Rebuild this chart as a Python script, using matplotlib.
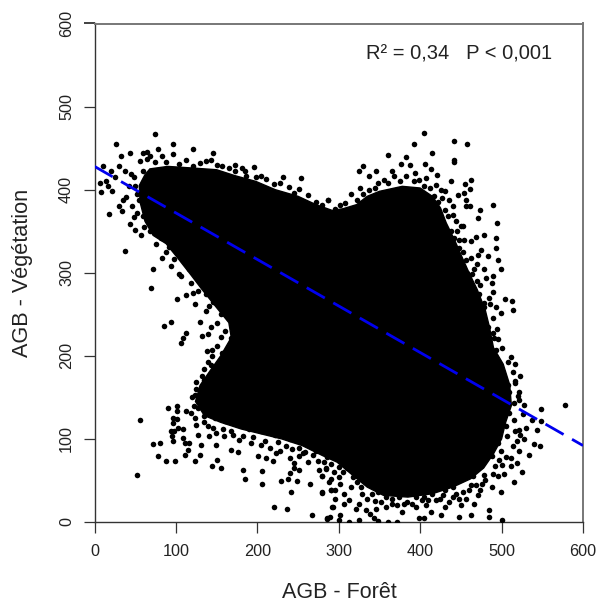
import matplotlib
matplotlib.use("Agg")
import matplotlib.pyplot as plt
from matplotlib.patches import Polygon

plt.rcParams['font.family'] = ['Liberation Sans', 'DejaVu Sans']

x_label = "AGB - Forêt"
y_label = "AGB - Végétation"
note = "R² = 0,34   P < 0,001"
ticks = [0, 100, 200, 300, 400, 500, 600]
fit_x = [0, 600]
fit_y = [428, 92]

# Outline of the region where the points overlap into solid black
dense_core = [(55,405),(62,418),(68,425),(90,428),(121,426),(150,424),(172,417),(198,410),(222,400),(250,392),
 (272,382),(292,375),(305,377),(322,382),(335,392),(350,398),(378,404),(400,402),(415,392),(425,378),
 (432,360),(442,340),(450,322),(460,300),(470,280),(480,255),(485,235),(490,210),(502,190),(510,165),
 (512,140),(505,120),(500,100),(490,82),(478,65),(462,52),(440,42),(415,34),(385,30),(355,32),(335,42),
 (315,58),(298,72),(280,80),(255,92),(230,100),(205,106),(180,112),(155,120),(135,128),(124,145),(130,165),
 (142,182),(155,200),(168,222),(165,240),(150,258),(132,280),(118,298),(102,318),(88,335),(72,345),
 (62,362),(56,385)]

upper_left = [(74,467),(27,455),(96,455),(121,449),(146,444),(32,441),(43,444),(11,429),(7,408),(8,397),
 (18,371),(38,326),(72,305),(70,282),(101,268),(44,359),(30,380),(50,351),(196,427),(254,414),(232,415),
 (181,426),(137,435),(59,444),(65,445),(78,449),(20,423),(14,411),(22,398),(35,387),(34,374),(56,435),
 (37,423),(45,419),(83,318),(94,308),(104,298),(121,276),(112,273),(123,262),(137,254),(88,433),(104,431),
 (121,429),(143,436),(157,429),(172,430),(172,423),(186,417),(198,415),(211,413),(221,407),(239,403),
 (251,401),(272,385),(287,387),(296,377),(74,433),(59,423),(49,415),(39,391),(55,387),(49,367),(61,355),
 (57,345),(76,335),(92,331),(98,316),(112,316),(106,296),(119,288),(137,274),(141,260),(16,404),(25,415),
 (42,405),(52,395),(64,437),(83,441),(96,443),(30,428),(68,440),(112,436),(130,432),(150,430),(165,426),
 (185,422),(205,416),(228,408),(245,396),(262,394),(280,382),(50,405),(46,380),(52,372),(60,368),(68,350),
 (82,342),(88,325),(103,322),(116,305),(128,292),(127,278),(145,265),(155,250)]

upper_right = [(405,468),(392,455),(442,458),(457,455),(360,442),(382,439),(414,444),(442,436),(442,433),
 (376,431),(388,430),(406,431),(330,429),(325,423),(346,422),(366,423),(337,417),(394,420),(413,425),
 (421,418),(438,411),(462,412),(455,407),(461,401),(326,402),(454,396),(446,394),(456,387),(490,382),
 (456,380),(461,380),(473,375),(471,366),(494,360),(469,343),(478,345),(493,342),(454,339),(493,330),
 (475,327),(453,325),(471,321),(483,320),(496,315),(499,305),(470,311),(481,294),(488,288),(489,277),
 (504,269),(513,266),(514,255),(499,251),(493,259),(478,263),(464,299),(452,356),(440,380),(427,390),
 (315,395),(287,388),(308,384),(323,388),(337,400),(348,408),(368,416),(382,416),(399,412),(407,414),
 (419,406),(417,392),(436,388),(440,370),(427,360),(450,356),(442,342),(440,323),(452,307),(460,291),
 (472,275),(478,259),(430,376),(445,350),(432,345),(448,330),(462,318),(458,300),(470,290),(484,270),
 (425,400),(412,402),(355,412),(392,410),(302,382),(330,395),(345,402),(360,408),(375,410),(405,405),
 (422,385),(434,368),(438,350),(448,340),(456,315),(466,305),(474,285),(486,262),(490,245),(494,232),
 (431,398),(444,362),(462,338),(479,305),(490,296)]

lower_right = [(578,141),(548,136),(549,121),(544,111),(547,91),(540,94),(534,81),(525,60),(519,71),(515,48),
 (499,36),(485,15),(485,6),(500,2),(462,8),(448,6),(466,22),(450,20),(431,18),(425,9),(413,12),(405,5),
 (398,5),(371,0),(360,0),(325,2),(313,0),(300,2),(301,8),(286,5),(333,14),(338,10),(343,5),(348,1),
 (508,192),(516,190),(514,180),(523,176),(517,167),(522,157),(508,165),(521,147),(528,141),(537,123),
 (530,113),(523,105),(519,97),(521,85),(511,68),(501,69),(489,58),(476,46),(471,32),(456,28),(440,30),
 (419,26),(407,20),(395,18),(378,12),(358,18),(346,16),(325,22),(321,16),(307,22),(292,18),(280,35),
 (290,38),(296,38),(307,34),(313,26),(284,64),(280,55),(294,60),(282,72),(300,54),(317,54),(329,34),
 (341,34),(358,30),(374,30),(395,30),(415,34),(431,38),(452,36),(468,44),(480,50),(503,58),(521,111),
 (515,123),(509,131),(501,123),(507,103),(499,85),(511,77),(497,75),(489,227),(491,222),(483,235),
 (472,229),(493,207),(496,191),(501,179),(497,173),(509,157),(515,143),(500,150),(505,115),(495,95),
 (488,80),(475,68),(465,55),(440,42),(400,38),(365,40),(335,48),(310,65),(296,80),(345,25),(352,24),
 (365,22),(372,20),(384,24),(390,22),(402,26),(410,26),(424,28),(436,24),(444,34),(460,38),(474,38),
 (488,42),(495,55),(505,78),(514,92),(528,100),(516,110),(526,130),(520,152),(516,170),(512,198),
 (500,210),(495,220),(335,28),(327,42),(315,42),(302,46),(291,52),(305,60),(322,48),(348,36),(366,28),
 (380,22),(405,30),(428,32),(448,28),(462,44),(478,56),(492,68)]

lower_left = [(56,123),(52,57),(72,94),(81,95),(78,79),(88,73),(99,73),(90,137),(101,140),(101,134),(96,125),
 (101,124),(97,119),(94,109),(98,109),(95,103),(97,98),(102,113),(109,112),(109,101),(111,95),(116,95),
 (115,87),(111,81),(129,81),(123,73),(144,67),(151,75),(155,65),(149,93),(131,93),(127,105),(141,103),
 (168,87),(176,84),(182,62),(185,52),(206,61),(206,46),(201,79),(220,18),(237,16),(229,49),(241,36),
 (238,52),(240,59),(245,65),(251,62),(249,49),(265,46),(267,8),(280,36),(286,4),(289,6),(293,18),(295,28),
 (291,38),(280,55),(284,65),(211,77),(219,74),(223,83),(240,77),(245,71),(251,79),(268,81),(274,73),
 (256,83),(269,93),(178,99),(192,95),(205,93),(215,89),(235,91),(251,89),(170,105),(159,103),(149,107),
 (139,115),(125,117),(123,125),(112,133),(119,131),(127,137),(138,206),(144,207),(144,200),(135,184),
 (125,169),(123,153),(129,143),(106,215),(109,221),(112,227),(85,236),(94,241),(132,224),(140,226),
 (129,241),(143,235),(155,223),(168,221),(157,203),(143,189),(135,171),(131,163),(178,219),(170,211),
 (135,128),(148,125),(160,122),(175,118),(190,112),(205,110),(222,105),(240,100),(262,98),(280,88),
 (134,120),(145,113),(158,112),(168,110),(183,104),(195,102),(210,98),(225,96),(242,88),(258,84),
 (272,86),(285,78),(290,70),(300,66),(122,140),(120,150),(125,160),(132,176),(140,192),(150,212),
 (160,230),(150,240),(228,86),(262,72),(276,62),(288,48)]

fig = plt.figure(figsize=(5.98, 6.03), dpi=100)
ax = fig.add_axes([94.5/598, 1 - 522/603, (583 - 94.5)/598, (522 - 23.5)/603])

ax.add_patch(Polygon(dense_core, closed=True, facecolor="black", edgecolor="black", zorder=2))
for group in (upper_left, upper_right, lower_right, lower_left):
    ax.scatter([p[0] for p in group], [p[1] for p in group], s=16, c="black", linewidths=0, zorder=3)

ax.plot(fit_x, fit_y, color="#0000ee", lw=2.0, dashes=(7.5, 3.5), zorder=4)

ax.set_xlim(0, 600)
ax.set_ylim(0, 600)
ax.set_xticks(ticks)
ax.set_yticks(ticks)
ax.tick_params(axis="x", length=7.7, width=0.9, labelsize=11.7, color="#333333", labelcolor="#222222", pad=8.5)
ax.tick_params(axis="y", length=7.7, width=0.9, labelsize=11.7, color="#333333", labelcolor="#222222", pad=7)
for lab in ax.get_yticklabels():
    lab.set_rotation(90)
    lab.set_va("center")
ax.yaxis.get_major_ticks()[-1].tick1line.set_color("#777777")
ax.yaxis.get_major_ticks()[-1].tick1line.set_markeredgewidth(1.3)
ax.xaxis.get_major_ticks()[-1].tick1line.set_color("#777777")
for name, s in ax.spines.items():
    s.set_linewidth(1.0)
    s.set_color("#333333")
for name in ("top", "right"):
    ax.spines[name].set_color("#777777")
    ax.spines[name].set_linewidth(1.4)

fig.text(339.5/598, 1 - 592/603, x_label, fontsize=15.5, color="#222222", ha="center", va="center")
fig.text(23/598, 1 - 273/603, y_label, fontsize=15.6, color="#222222", ha="center", va="center", rotation=90)
ax.text(334, 563.5, note, fontsize=14.5, color="#222222", va="center", ha="left")

fig.savefig("out.png", dpi=100)
